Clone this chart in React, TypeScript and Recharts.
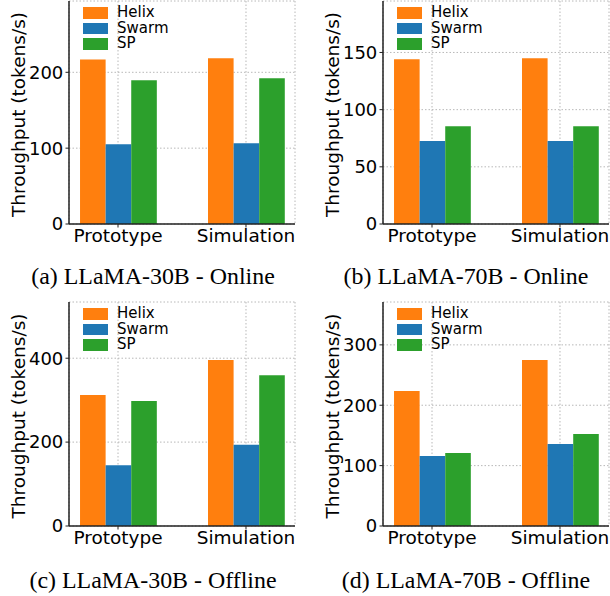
import { BarChart, Bar, XAxis, YAxis, CartesianGrid, Legend } from 'recharts';

// categories and series
const categories = ['Prototype', 'Simulation'];
const methods = ['Helix', 'Swarm', 'SP'];
const colors = ['#ff7f0e', '#1f77b4', '#2ca02c'];

// throughput values, [Prototype, Simulation]
const online30Helix = [217, 218.5];
const online30Swarm = [105, 106.5];
const online30Sp = [189.5, 192];

const online70Helix = [144, 145];
const online70Swarm = [72.5, 72.5];
const online70Sp = [85.5, 85.5];

const offline30Helix = [312, 396];
const offline30Swarm = [145, 193.5];
const offline30Sp = [298, 359.5];

const offline70Helix = [223.5, 275];
const offline70Swarm = [116, 136];
const offline70Sp = [121, 152.5];

// y ticks
const ticksOnline30 = [0, 100, 200];
const ticksOnline70 = [0, 50, 100, 150];
const ticksOffline30 = [0, 200, 400];
const ticksOffline70 = [0, 100, 200, 300];

const captions = [
  '(a) LLaMA-30B - Online',
  '(b) LLaMA-70B - Online',
  '(c) LLaMA-30B - Offline',
  '(d) LLaMA-70B - Offline',
];

const FONT = 'DejaVu Sans';
const AXIS = '#222';

const toRows = (series: number[][]) =>
  categories.map((name, i) => {
    const row: Record<string, number | string> = { x: i, name };
    methods.forEach((m, j) => {
      row[m] = series[j][i];
    });
    return row;
  });

const AxisTitle = (props: any) => {
  const { x, y, width, height } = props.viewBox;
  const cx = x + width - 51;
  const cy = y + height / 2 + 2;
  return (
    <text
      x={cx}
      y={cy}
      transform={`rotate(-90, ${cx}, ${cy})`}
      textAnchor="middle"
      dominantBaseline="central"
      fontSize={18.5}
      fontFamily={FONT}
      fill="#000"
    >
      Throughput (tokens/s)
    </text>
  );
};

// keep the legend in series order (recharts sorts it by name)
const LegendBox = (props: any) => {
  const items = [...(props.payload || [])].sort(
    (a: any, b: any) => methods.indexOf(a.value) - methods.indexOf(b.value)
  );
  return (
    <div style={{ fontFamily: FONT, fontSize: 15, lineHeight: '15.5px', color: '#000' }}>
      {items.map((p: any) => (
        <div key={p.value} style={{ display: 'flex', alignItems: 'center', height: 15.5 }}>
          <span style={{ width: 25, height: 11.5, background: p.color, marginRight: 9 }} />
          <span>{p.value}</span>
        </div>
      ))}
    </div>
  );
};

type PanelProps = {
  series: number[][];
  yMax: number;
  ticks: number[];
  axisWidth: number;
  rightMargin: number;
  topMargin: number;
  plotHeight: number;
};

const Panel = ({ series, yMax, ticks, axisWidth, rightMargin, topMargin, plotHeight }: PanelProps) => {
  const rows = toRows(series);
  return (
    <BarChart
      width={305}
      height={topMargin + plotHeight + 26}
      data={rows}
      margin={{ top: topMargin, right: rightMargin, left: 0, bottom: 0 }}
      barGap={0}
      barCategoryGap={0}
    >
      {methods.map((m, j) => (
        <Bar key={m} dataKey={m} name={m} fill={colors[j]} barSize={25.6} isAnimationActive={false} />
      ))}
      <CartesianGrid stroke="#b8b8b8" strokeDasharray="1.5 2" />
      <Legend
        layout="horizontal"
        align="center"
        verticalAlign="middle"
        content={<LegendBox />}
        wrapperStyle={{ position: 'absolute', left: axisWidth + 14, top: topMargin + 4, width: 'auto' }}
      />
      <XAxis
        type="number"
        dataKey="x"
        domain={[-0.383, 1.383]}
        ticks={[0, 1]}
        allowDataOverflow
        height={26}
        tickFormatter={(v: number) => categories[v] ?? ''}
        tickSize={3.5}
        tickMargin={1.2}
        tick={{ fontSize: 18.5, fill: '#000', fontFamily: FONT }}
        axisLine={{ stroke: AXIS, strokeWidth: 1.5 }}
        tickLine={{ stroke: AXIS }}
      />
      <YAxis
        type="number"
        domain={[0, yMax]}
        ticks={ticks}
        allowDataOverflow
        width={axisWidth}
        tickSize={3.5}
        tickMargin={2.2}
        tick={{ fontSize: 18, fill: '#000', fontFamily: FONT }}
        axisLine={{ stroke: AXIS, strokeWidth: 1.5 }}
        tickLine={{ stroke: AXIS }}
        label={<AxisTitle />}
      />
      <XAxis
        xAxisId="frame"
        orientation="top"
        type="number"
        domain={[0, 1]}
        height={0}
        tick={false}
        tickLine={false}
        axisLine={{ stroke: AXIS, strokeWidth: 1.5 }}
      />
      <YAxis
        yAxisId="frame"
        orientation="right"
        type="number"
        domain={[0, 1]}
        width={0}
        tick={false}
        tickLine={false}
        axisLine={{ stroke: AXIS, strokeWidth: 1.5 }}
      />
    </BarChart>
  );
};

export default function App() {
  return (
    <div style={{ position: 'absolute', left: 0, top: 0, width: 610, height: 596, background: '#fff' }}>
      <svg width={610} height={596} style={{ position: 'absolute', left: 0, top: 0 }}>
        {captions.map((c, i) => (
          <text
            key={c}
            x={i % 2 === 0 ? 153 : 466}
            y={i < 2 ? 284 : 588}
            textAnchor="middle"
            fontFamily="Liberation Serif"
            fontSize={23.9}
            fill="#000"
          >
            {c}
          </text>
        ))}
      </svg>
      <div style={{ position: 'absolute', left: 0, top: 0 }}>
        <Panel series={[online30Helix, online30Swarm, online30Sp]} yMax={294} ticks={ticksOnline30}
          axisWidth={69} rightMargin={10} topMargin={1} plotHeight={223} />
      </div>
      <div style={{ position: 'absolute', left: 305, top: 0 }}>
        <Panel series={[online70Helix, online70Swarm, online70Sp]} yMax={195} ticks={ticksOnline70}
          axisWidth={78} rightMargin={1} topMargin={1} plotHeight={223} />
      </div>
      <div style={{ position: 'absolute', left: 0, top: 296 }}>
        <Panel series={[offline30Helix, offline30Swarm, offline30Sp]} yMax={534} ticks={ticksOffline30}
          axisWidth={69} rightMargin={10} topMargin={6} plotHeight={224} />
      </div>
      <div style={{ position: 'absolute', left: 305, top: 296 }}>
        <Panel series={[offline70Helix, offline70Swarm, offline70Sp]} yMax={371} ticks={ticksOffline70}
          axisWidth={78} rightMargin={1} topMargin={6} plotHeight={224} />
      </div>
    </div>
  );
}
